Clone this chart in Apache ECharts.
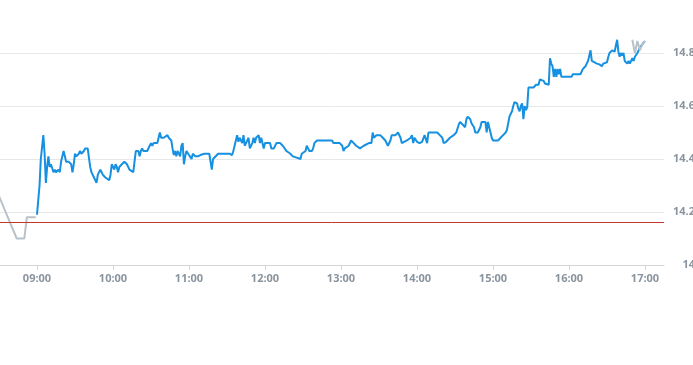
<!DOCTYPE html>
<html>
<head>
<meta charset="utf-8">
<script src="https://cdn.jsdelivr.net/npm/echarts@6/dist/echarts.min.js"></script>
<style>
html,body{margin:0;padding:0;background:#fff;}
#chart{width:693px;height:365px;}
</style>
</head>
<body>
<div id="chart"></div>
<script>
// ---- data ----
const preTimes  = ["08:30","08:37","08:44","08:50","08:52","08:59"];
const prePrices = [14.26, 14.18, 14.10, 14.10, 14.18, 14.18];

const times = [
"09:00","09:02","09:03","09:05","09:06","09:07","09:08","09:09","09:10","09:11","09:13","09:14","09:15","09:17","09:18","09:19","09:21","09:22","09:23","09:25","09:27","09:28","09:29","09:30","09:31","09:32","09:33","09:34","09:35","09:36","09:37","09:38","09:39","09:40","09:42","09:43","09:44","09:45","09:47","09:48","09:50","09:51","09:52","09:54","09:55","09:57","09:58","09:59",
"10:01","10:02","10:03","10:04","10:05","10:07","10:09","10:10","10:11","10:13","10:14","10:16","10:17","10:18","10:19","10:20","10:21","10:22","10:23","10:24","10:25","10:27","10:28","10:29","10:30","10:31","10:32","10:33","10:35","10:37","10:38","10:40","10:41","10:43","10:44","10:46","10:47","10:48","10:49","10:50","10:51","10:53","10:54","10:55","10:56","10:57","10:58",
"11:00","11:01","11:02","11:03","11:05","11:07","11:09","11:12","11:16","11:18","11:19","11:23","11:32","11:34","11:35","11:36","11:38","11:39","11:40","11:42","11:43","11:44","11:46","11:47","11:48","11:50","11:51","11:52","11:53","11:55","11:56","11:57","11:59",
"12:00","12:04","12:05","12:07","12:08","12:09","12:12","12:14","12:17","12:20","12:22","12:25","12:28","12:29","12:30","12:32","12:33","12:34","12:35","12:37","12:38","12:39","12:41","12:53","12:54","12:59",
"13:01","13:02","13:03","13:06","13:07","13:08","13:10","13:12","13:15","13:18","13:19","13:22","13:24","13:25","13:26","13:28","13:31","13:32","13:33","13:35","13:36","13:37","13:39","13:40","13:43","13:45","13:47","13:48","13:49","13:52","13:55","13:56","13:57","13:58",
"14:00","14:02","14:04","14:06","14:07","14:08","14:09","14:10","14:13","14:16","14:17","14:18","14:20","14:21","14:23","14:26","14:29","14:31","14:33","14:34","14:36","14:38","14:39","14:40","14:42","14:43","14:45","14:46","14:48","14:50","14:51","14:54","14:55","14:56","14:57","14:58","14:59",
"15:00","15:04","15:06","15:07","15:08","15:10","15:11","15:12","15:13","15:15","15:16","15:17","15:19","15:20","15:21","15:22","15:23","15:24","15:25","15:26","15:27","15:28","15:29","15:32","15:34","15:36","15:37","15:38","15:40","15:41","15:42","15:44","15:45","15:46","15:47","15:48","15:49","15:50","15:51","15:52","15:53","15:54","15:55",
"16:02","16:03","16:09","16:10","16:11","16:13","16:14","16:15","16:16","16:17","16:18","16:19","16:22","16:24","16:26","16:27","16:30","16:31","16:32","16:34","16:35","16:36","16:37","16:38","16:39","16:40","16:41","16:42","16:43","16:44","16:46","16:47","16:48","16:50","16:51","16:52","16:54","16:56","16:59","17:00"
];
const prices = [
14.19,14.30,14.40,14.49,14.42,14.31,14.37,14.41,14.37,14.38,14.35,14.36,14.35,14.36,14.35,14.39,14.43,14.41,14.39,14.39,14.38,14.35,14.38,14.42,14.41,14.415,14.42,14.43,14.42,14.415,14.43,14.44,14.44,14.44,14.37,14.35,14.34,14.33,14.31,14.34,14.36,14.35,14.34,14.33,14.33,14.32,14.34,14.38,
14.36,14.38,14.37,14.35,14.37,14.38,14.39,14.39,14.38,14.36,14.36,14.35,14.39,14.43,14.43,14.43,14.41,14.43,14.44,14.43,14.43,14.43,14.43,14.45,14.46,14.45,14.46,14.46,14.46,14.50,14.48,14.48,14.48,14.49,14.48,14.47,14.44,14.415,14.43,14.41,14.43,14.41,14.45,14.46,14.38,14.41,14.43,
14.415,14.41,14.40,14.42,14.41,14.41,14.415,14.42,14.42,14.36,14.40,14.42,14.42,14.415,14.43,14.45,14.49,14.465,14.48,14.46,14.49,14.45,14.47,14.48,14.44,14.46,14.48,14.46,14.48,14.49,14.46,14.48,14.44,
14.46,14.46,14.44,14.44,14.45,14.46,14.46,14.45,14.43,14.42,14.41,14.405,14.40,14.42,14.42,14.43,14.45,14.44,14.43,14.43,14.44,14.46,14.47,14.47,14.46,14.46,
14.45,14.43,14.44,14.45,14.45,14.47,14.46,14.45,14.44,14.45,14.455,14.46,14.46,14.50,14.48,14.49,14.49,14.487,14.48,14.47,14.46,14.45,14.47,14.49,14.49,14.50,14.48,14.46,14.46,14.47,14.48,14.49,14.46,14.48,
14.465,14.46,14.465,14.49,14.49,14.46,14.50,14.50,14.50,14.50,14.50,14.49,14.48,14.46,14.465,14.48,14.49,14.50,14.53,14.54,14.53,14.52,14.55,14.56,14.55,14.535,14.52,14.50,14.50,14.52,14.54,14.54,14.50,14.54,14.52,14.50,14.48,
14.47,14.47,14.48,14.48,14.49,14.50,14.51,14.535,14.56,14.58,14.60,14.615,14.61,14.59,14.58,14.60,14.61,14.55,14.60,14.585,14.595,14.67,14.67,14.67,14.68,14.68,14.70,14.705,14.695,14.685,14.68,14.68,14.78,14.76,14.75,14.71,14.74,14.71,14.74,14.72,14.74,14.71,14.71,
14.71,14.72,14.72,14.725,14.74,14.75,14.76,14.77,14.79,14.81,14.77,14.765,14.76,14.757,14.75,14.76,14.765,14.785,14.80,14.81,14.81,14.805,14.81,14.85,14.805,14.786,14.80,14.79,14.80,14.77,14.76,14.77,14.76,14.78,14.77,14.786,14.80,14.82,14.84,14.845
];

const postTimes  = ["16:50","16:52","16:54","16:56","16:58","17:00"];
const postPrices = [14.85, 14.80, 14.845, 14.81, 14.835, 14.845];

const prevClose = 14.16;

const xTickTimes = ["09:00","10:00","11:00","12:00","13:00","14:00","15:00","16:00","17:00"];
const yTickValues = [14, 14.2, 14.4, 14.6, 14.8];
const xRange = ["08:30","17:15"];
const yRange = [14, 14.9];

// ---- helpers ----
function toMin(t){ const p=t.split(':'); return (+p[0])*60+(+p[1]); }
function fmt(m){ const h=Math.floor(m/60), mm=m%60; return (h<10?'0':'')+h+':'+(mm<10?'0':'')+mm; }
function pairs(ts, vs){ return ts.map((t,i)=>[toMin(t), vs[i]]); }

const xTicks = xTickTimes.map(toMin);
const labelColor = '#8a949f';

const chart = echarts.init(document.getElementById('chart'), null, {renderer:'canvas'});
chart.setOption({
  animation: false,
  grid: { left: -1, right: 29, top: 26.5, bottom: 100, containLabel: false, outerBoundsMode: 'none' },
  xAxis: {
    type: 'value',
    min: toMin(xRange[0]), max: toMin(xRange[1]),
    axisLine: { show: true, lineStyle: { color: '#d3d6da', width: 1 } },
    axisTick: { show: true, customValues: xTicks, length: 5, lineStyle: { color: '#d3d6da' } },
    axisLabel: { customValues: xTicks, formatter: v => fmt(v), color: labelColor, fontSize: 11, fontWeight: 'bold', margin: 8, fontFamily: 'Open Sans, sans-serif' },
    splitLine: { show: false }
  },
  yAxis: {
    type: 'value',
    position: 'right',
    min: yRange[0], max: yRange[1],
    axisLine: { show: false },
    axisTick: { show: false, customValues: yTickValues },
    axisLabel: { customValues: yTickValues, align: 'right', margin: 31, color: labelColor, fontSize: 11, fontWeight: 'bold', fontFamily: 'Open Sans, sans-serif', formatter: v => String(+v.toFixed(2)) },
    splitLine: { show: true, lineStyle: { color: '#e6e8ea', width: 1 } }
  },
  series: [
    { type: 'line', data: pairs(preTimes, prePrices), symbol: 'none', lineStyle: { color: '#b9c1c9', width: 2 }, z: 2 },
    { type: 'line', data: pairs(times, prices), symbol: 'none', lineStyle: { color: '#1690e0', width: 2 }, z: 3,
      markLine: { silent: true, symbol: 'none', label: { show: false }, lineStyle: { color: '#c0392b', type: 'solid', width: 1 }, data: [{ yAxis: prevClose }] } },
    { type: 'line', data: pairs(postTimes, postPrices), symbol: 'none', lineStyle: { color: '#b9c1c9', width: 2 }, z: 4 }
  ]
});
</script>
</body>
</html>
